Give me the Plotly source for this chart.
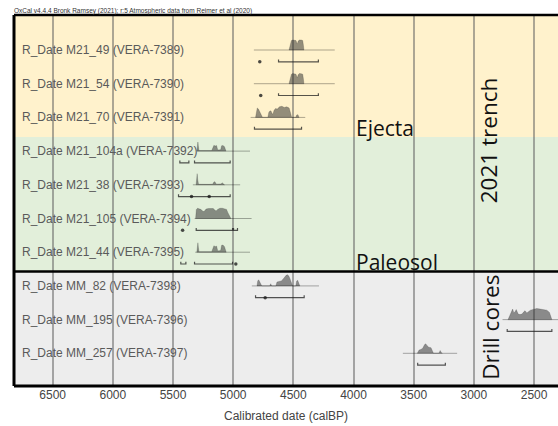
import plotly.graph_objects as go

# ---------------- data ----------------
labels = [
    "R_Date M21_49 (VERA-7389)",
    "R_Date M21_54 (VERA-7390)",
    "R_Date M21_70 (VERA-7391)",
    "R_Date M21_104a (VERA-7392)",
    "R_Date M21_38 (VERA-7393)",
    "R_Date M21_105 (VERA-7394)",
    "R_Date M21_44 (VERA-7395)",
    "R_Date MM_82 (VERA-7398)",
    "R_Date MM_195 (VERA-7396)",
    "R_Date MM_257 (VERA-7397)",
]

# extent of the thin baseline under each distribution (calBP)
baseline_start = [4828, 4828, 4855, 5300, 5335, 5320, 5315, 4845, 2762, 3590]
baseline_end = [4156, 4156, 4401, 4860, 4942, 4847, 4860, 4287, 2290, 3139]

# probability profiles (date calBP, relative density)
m21_49_dates = [4536, 4530, 4524, 4516, 4505, 4490, 4478, 4470, 4466, 4460, 4450, 4435, 4422, 4416, 4412]
m21_49_dens = [0, 0.25, 0.7, 0.85, 0.9, 0.88, 0.85, 0.6, 0.55, 0.8, 0.9, 0.9, 0.85, 0.4, 0]
m21_54_dates = [4536, 4530, 4524, 4516, 4505, 4490, 4478, 4470, 4466, 4460, 4450, 4435, 4422, 4416, 4412]
m21_54_dens = [0, 0.25, 0.7, 0.85, 0.92, 0.88, 0.85, 0.6, 0.55, 0.8, 0.92, 0.9, 0.85, 0.4, 0]
m21_70_dates = [4814, 4808, 4800, 4790, 4778, 4766, 4756, 4712, 4704, 4694, 4684, 4676, 4668, 4660, 4648,
                4634, 4615, 4595, 4575, 4555, 4535, 4522, 4514, 4480, 4472, 4462, 4452]
m21_70_dens = [0, 0.6, 0.85, 0.75, 0.5, 0.25, 0, 0, 0.45, 0.6, 0.55, 0.3, 0.35, 0.65, 0.8, 0.75,
               0.95, 1.0, 0.9, 0.95, 0.85, 0.35, 0, 0, 0.22, 0.25, 0]
m21_104a_dates = [5302, 5297, 5293, 5289, 5284, 5178, 5170, 5160, 5150, 5138, 5128, 5104, 5096, 5085, 5072, 5060]
m21_104a_dens = [0, 0.5, 0.82, 0.45, 0.05, 0.05, 0.35, 0.52, 0.45, 0.5, 0.1, 0.12, 0.48, 0.5, 0.4, 0]
m21_38_dates = [5308, 5303, 5299, 5295, 5288, 5200, 5170, 5160, 5152, 5140, 5100, 5092, 5084, 5072]
m21_38_dens = [0, 0.6, 1.0, 0.5, 0.05, 0.04, 0.06, 0.25, 0.28, 0.06, 0.08, 0.18, 0.12, 0]
m21_105_dates = [5312, 5306, 5296, 5280, 5266, 5255, 5244, 5235, 5225, 5205, 5185, 5165, 5156, 5142,
                 5129, 5110, 5090, 5070, 5055, 5045, 5030, 5019]
m21_105_dens = [0, 0.8, 0.92, 0.88, 0.8, 0.68, 0.62, 0.72, 0.85, 0.9, 0.92, 0.9, 0.78, 0.68, 0.82,
                0.92, 0.92, 0.88, 0.82, 0.55, 0.2, 0]
m21_44_dates = [5302, 5297, 5293, 5289, 5284, 5178, 5170, 5160, 5150, 5138, 5128, 5104, 5096, 5085, 5072, 5058]
m21_44_dens = [0, 0.5, 0.85, 0.45, 0.05, 0.05, 0.4, 0.58, 0.5, 0.55, 0.12, 0.15, 0.62, 0.65, 0.5, 0]
mm_82_dates = [4802, 4796, 4788, 4780, 4770, 4762, 4696, 4688, 4680, 4645, 4636, 4616, 4600, 4586,
               4572, 4560, 4548, 4538, 4528, 4516, 4506, 4480, 4472, 4464, 4455, 4446]
mm_82_dens = [0, 0.45, 0.55, 0.35, 0.1, 0, 0, 0.2, 0, 0, 0.35, 0.4, 0.45, 0.6, 0.85, 0.95, 1.0, 0.9,
              0.65, 0.2, 0, 0, 0.45, 0.5, 0.2, 0]
mm_195_dates = [2716, 2700, 2690, 2678, 2668, 2658, 2648, 2632, 2617, 2600, 2585, 2575, 2560, 2545,
                2530, 2506, 2478, 2450, 2422, 2394, 2372, 2360, 2352]
mm_195_dens = [0, 0.4, 0.75, 0.95, 0.6, 0.7, 0.9, 0.5, 0.45, 0.5, 0.7, 0.8, 0.6, 0.75, 0.85, 0.92,
               1.0, 0.95, 0.9, 0.85, 0.65, 0.3, 0]
mm_257_dates = [3470, 3455, 3440, 3425, 3410, 3400, 3390, 3375, 3356, 3345, 3336, 3290, 3280, 3270, 3262]
mm_257_dens = [0, 0.3, 0.35, 0.45, 0.78, 0.85, 0.7, 0.55, 0.5, 0.2, 0, 0, 0.25, 0.05, 0]

profile_dates = [m21_49_dates, m21_54_dates, m21_70_dates, m21_104a_dates, m21_38_dates,
                 m21_105_dates, m21_44_dates, mm_82_dates, mm_195_dates, mm_257_dates]
profile_dens = [m21_49_dens, m21_54_dens, m21_70_dens, m21_104a_dens, m21_38_dens,
                m21_105_dens, m21_44_dens, mm_82_dens, mm_195_dens, mm_257_dens]

# 95.4% ranges (start, end) and single-point marks under each distribution
range_starts = [[4623], [4623], [4823], [5443, 5321], [5454], [5307, 4997], [5435, 5321], [4814], [2723], [3467]]
range_ends = [[4292], [4292], [4432], [5368, 5025], [5025], [5005, 4964], [5393, 5005], [4410], [2352], [3237]]
range_dots = [[4779], [4771], [], [], [5346, 5199], [5420], [4978], [4734], [], []]

tick_vals = [6500, 6000, 5500, 5000, 4500, 4000, 3500, 3000, 2500]
tick_text = ["6500", "6000", "5500", "5000", "4500", "4000", "3500", "3000", "2500"]

axis_title = "Calibrated date (calBP)"
header = "OxCal v4.4.4 Bronk Ramsey (2021); r:5 Atmospheric data from Reimer et al (2020)"

# ---------------- figure ----------------
PEAK = 0.33       # row units for max density
RANGE_OFF = 0.35  # row units below baseline
TICK_UP = 0.07

fig = go.Figure()

fill_col = "rgba(40,40,40,0.5)"
for i in range(len(labels)):
    d = profile_dates[i]
    h = profile_dens[i]
    fig.add_trace(go.Scatter(x=[baseline_start[i], baseline_end[i]], y=[i, i], mode="lines",
                             line=dict(color="rgba(0,0,0,0.32)", width=1), hoverinfo="skip",
                             showlegend=False))
    xs = list(d) + [d[-1], d[0]]
    ys = [i - v * PEAK for v in h] + [i, i]
    fig.add_trace(go.Scatter(x=xs, y=ys, mode="lines", fill="toself", fillcolor=fill_col,
                             line=dict(color="rgba(40,40,40,0.35)", width=0.6), hoverinfo="skip",
                             showlegend=False))
    rx, ry = [], []
    yb = i + RANGE_OFF
    for s, e in zip(range_starts[i], range_ends[i]):
        rx += [s, s, e, e, None]
        ry += [yb - TICK_UP, yb, yb, yb - TICK_UP, None]
    fig.add_trace(go.Scatter(x=rx, y=ry, mode="lines",
                             line=dict(color="rgba(30,30,30,0.75)", width=1.2), hoverinfo="skip",
                             showlegend=False))
    if range_dots[i]:
        fig.add_trace(go.Scatter(x=range_dots[i], y=[yb] * len(range_dots[i]), mode="markers",
                                 marker=dict(color="rgba(30,30,30,0.8)", size=3.5), hoverinfo="skip",
                                 showlegend=False))

YMIN, YMAX = -1.039, 9.970
B1, B2 = 2.58, 6.573

shapes = [
    dict(type="rect", xref="paper", yref="y", x0=0, x1=1, y0=YMIN, y1=B1, fillcolor="#fff2cc",
         line=dict(width=0), layer="below"),
    dict(type="rect", xref="paper", yref="y", x0=0, x1=1, y0=B1, y1=B2, fillcolor="#e2efda",
         line=dict(width=0), layer="below"),
    dict(type="rect", xref="paper", yref="y", x0=0, x1=1, y0=B2, y1=YMAX, fillcolor="#ededed",
         line=dict(width=0), layer="below"),
    dict(type="line", xref="paper", yref="y", x0=0, x1=1, y0=B2, y1=B2,
         line=dict(color="black", width=2.5), layer="above"),
    dict(type="line", xref="paper", yref="paper", x0=0, x1=1, y0=1, y1=1,
         line=dict(color="black", width=2.5), layer="above"),
    dict(type="line", xref="paper", yref="paper", x0=0, x1=1, y0=0, y1=0,
         line=dict(color="black", width=3), layer="above"),
    dict(type="line", xref="paper", yref="paper", x0=0, x1=0, y0=0, y1=1,
         line=dict(color="black", width=3), layer="above"),
]

annotations = []
for i, lab in enumerate(labels):
    annotations.append(dict(x=6768, y=i, xref="x", yref="y", text=lab, showarrow=False,
                            xanchor="left", yanchor="middle",
                            font=dict(family="Liberation Sans, Arial", size=12, color="#5a5a5a")))

big_font = dict(family="Open Sans", size=21, color="#111111")
annotations += [
    dict(x=4000, y=2.30, xref="x", yref="y", text="Ejecta", showarrow=False,
         xanchor="left", yanchor="middle", font=big_font),
    dict(x=4000, y=6.28, xref="x", yref="y", text="Paleosol", showarrow=False,
         xanchor="left", yanchor="middle", font=big_font),
    dict(x=2872, y=2.67, xref="x", yref="y", text="2021 trench", showarrow=False, textangle=-90,
         xanchor="center", yanchor="middle", font=dict(family="Open Sans", size=22.5, color="#111111")),
    dict(x=2868, y=8.22, xref="x", yref="y", text="Drill cores", showarrow=False, textangle=-90,
         xanchor="center", yanchor="middle", font=dict(family="Open Sans", size=22.5, color="#111111")),
    dict(x=0.5, y=-0.081, xref="paper", yref="paper", text=axis_title, showarrow=False,
         xanchor="center", yanchor="middle",
         font=dict(family="Liberation Sans, Arial", size=12, color="#444444")),
    dict(x=-0.004, y=1.011, xref="paper", yref="paper", text=header, showarrow=False,
         xanchor="left", yanchor="middle",
         font=dict(family="Liberation Sans, Arial", size=6.5, color="#333333")),
]

fig.update_layout(
    width=558, height=426,
    margin=dict(l=14, r=0, t=15, b=40),
    paper_bgcolor="white", plot_bgcolor="white",
    shapes=shapes, annotations=annotations,
    xaxis=dict(range=[6821, 2301], tickvals=tick_vals, ticktext=tick_text, showgrid=True,
               gridcolor="rgba(90,90,90,0.5)", gridwidth=1.5, zeroline=False, ticks="",
               showline=False, tickfont=dict(family="Liberation Sans, Arial", size=12, color="#444444")),
    yaxis=dict(range=[YMAX, YMIN], visible=False, showgrid=False, zeroline=False),
    showlegend=False,
)

# remove the default page margin so the figure fills the window exactly
fig.write_html("out.html", config={"displayModeBar": False},
               post_script="document.body.style.margin='0';document.body.style.overflow='hidden';")
